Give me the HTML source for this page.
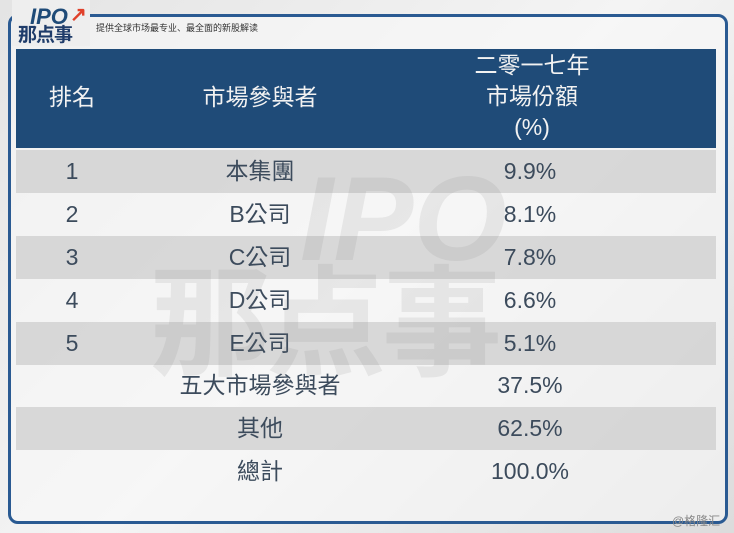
<!DOCTYPE html>
<html><head><meta charset="utf-8"><style>
body{margin:0;width:734px;height:533px;overflow:hidden;background:linear-gradient(135deg,#e4e4e4,#f4f4f4 50%,#dcdcdc);font-family:"Liberation Sans","Noto Sans CJK TC",sans-serif;position:relative}
.frame{position:absolute;left:8px;top:14px;width:714px;height:504px;border:3px solid #2a5a92;border-radius:10px;background:rgba(248,248,248,.6)}
.logo{position:absolute;left:12px;top:0;width:78px;height:46px;background:#eee}
.hdr{position:absolute;left:16px;top:49px;width:700px;height:99px;background:#1f4b78;color:#f2f2f2;font-size:23px}
.row{position:absolute;left:16px;width:700px;height:43px;color:#3c4b5c;font-size:23px}
.g{background:rgba(205,205,205,.75)}
.c{position:absolute;text-align:center;transform:translateX(-50%);white-space:nowrap;top:0;line-height:43px}
.wm{position:absolute;color:rgba(120,120,120,.13);font-weight:bold;font-family:"Liberation Sans","Noto Sans CJK SC",sans-serif;z-index:5}
</style></head><body>
<div class="frame"></div>
<div class="logo"></div>
<div style="position:absolute;left:30px;top:4px;font:italic bold 22px 'Liberation Sans';color:#1f4b78">IPO</div>
<div style="position:absolute;left:70px;top:2px;color:#e0402a;font:bold 20px 'Liberation Sans'">↗</div>
<div style="position:absolute;left:18px;top:24px;font:bold 19px 'Noto Sans CJK SC',sans-serif;color:#1f3c6a;letter-spacing:-1px;line-height:20px">那点事</div>
<div style="position:absolute;left:96px;top:21px;font:9px 'Noto Sans CJK SC',sans-serif;color:#333">提供全球市场最专业、最全面的新股解读</div>
<div class="hdr">
<div class="c" style="left:56px;top:27px">排名</div>
<div class="c" style="left:244px;top:27px">市場參與者</div>
<div class="c" style="left:516px;top:1px;line-height:31px">二零一七年<br>市場份額<br>(%)</div>
</div>
<div class="row g" style="top:150px"><div class="c" style="left:56px">1</div><div class="c" style="left:244px">本集團</div><div class="c" style="left:514px">9.9%</div></div>
<div class="row" style="top:193px"><div class="c" style="left:56px">2</div><div class="c" style="left:244px">B公司</div><div class="c" style="left:514px">8.1%</div></div>
<div class="row g" style="top:236px"><div class="c" style="left:56px">3</div><div class="c" style="left:244px">C公司</div><div class="c" style="left:514px">7.8%</div></div>
<div class="row" style="top:279px"><div class="c" style="left:56px">4</div><div class="c" style="left:244px">D公司</div><div class="c" style="left:514px">6.6%</div></div>
<div class="row g" style="top:322px"><div class="c" style="left:56px">5</div><div class="c" style="left:244px">E公司</div><div class="c" style="left:514px">5.1%</div></div>
<div class="row" style="top:364px"><div class="c" style="left:244px">五大市場參與者</div><div class="c" style="left:514px">37.5%</div></div>
<div class="row g" style="top:407px"><div class="c" style="left:244px">其他</div><div class="c" style="left:514px">62.5%</div></div>
<div class="row" style="top:450px"><div class="c" style="left:244px">總計</div><div class="c" style="left:514px">100.0%</div></div>
<div class="wm" style="left:300px;top:150px;font-size:120px;font-style:italic">IPO</div>
<div class="wm" style="left:150px;top:265px;font-size:120px;line-height:120px;letter-spacing:-4px">那点事</div>
<div style="position:absolute;left:672px;top:512px;font-size:12px;color:#888">@格隆汇</div>
</body></html>
